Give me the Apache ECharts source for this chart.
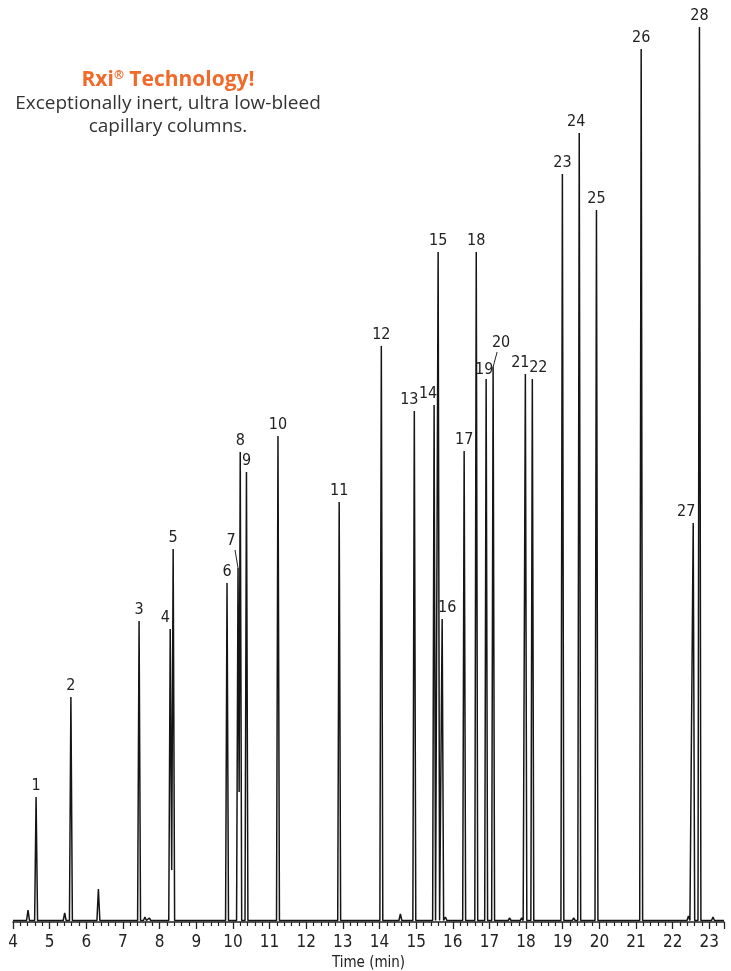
<!DOCTYPE html>
<html>
<head>
<meta charset="utf-8">
<script src="https://cdn.jsdelivr.net/npm/echarts@6/dist/echarts.min.js"></script>
<style>
html,body{margin:0;padding:0;background:#fff;}
#chart{width:731px;height:971px;}
</style>
</head>
<body>
<div id="chart"></div>
<script>
// ---- data ----
const peakNumbers = [1,2,3,4,5,6,7,8,9,10,11,12,13,14,15,16,17,18,19,20,21,22,23,24,25,26,27,28];
const peakTimes   = [4.63,5.58,7.44,8.29,8.37,9.84,10.14,10.20,10.37,11.23,12.90,14.05,14.95,15.49,15.60,15.71,16.31,16.64,16.91,17.10,17.98,18.17,18.99,19.45,19.92,21.14,22.56,22.73];
const peakHeights = [125,225,301,293,373,339,354,470,450,486,420,576,511,517,670,303,471,670,543,555,548,543,748,789,712,873,399,895];
// small unlabelled peaks / baseline disturbances
const minorTimes   = [4.10,4.41,5.41,6.33,7.60,7.72,9.05,14.57,15.80,17.55,17.88,18.85,19.30,22.43,23.10];
const minorHeights = [3,12,9,33,5,4,2,8,5,4,4,3,4,6,5];
// valleys between co-eluting peaks
const valleyTimes   = [8.33,10.17];
const valleyHeights = [52,130];
const baselineLevel = 1.5;
const timeMin = 4, timeMax = 23.4;

// ---- label placement (style only) ----
const labelShift = {4:[-5,0],7:[-7,-16],13:[-5,0],14:[-6,0],16:[5,0],19:[-2,2],20:[8,-13],21:[-5,0],22:[6,0],24:[-3,0],27:[-7,0]};
const leaderLines = {7:true,20:true};

// ---- build trace ----
const halfWidth = 0.04;
const allPeaks = peakTimes.map((t,i)=>[t,peakHeights[i]])
  .concat(minorTimes.map((t,i)=>[t,minorHeights[i]]))
  .sort((a,b)=>a[0]-b[0]);
function valleyBetween(a,b){
  for(let k=0;k<valleyTimes.length;k++){
    if(valleyTimes[k]>a && valleyTimes[k]<b) return [valleyTimes[k],valleyHeights[k]];
  }
  return null;
}
const trace = [[timeMin, baselineLevel]];
allPeaks.forEach((p,i)=>{
  const prev = allPeaks[i-1], next = allPeaks[i+1];
  const vp = prev ? valleyBetween(prev[0],p[0]) : null;
  if(!vp) trace.push([p[0]-halfWidth, baselineLevel]);
  trace.push([p[0], p[1]]);
  const vn = next ? valleyBetween(p[0],next[0]) : null;
  if(vn) trace.push(vn); else trace.push([p[0]+halfWidth, baselineLevel]);
});
trace.push([timeMax, baselineLevel]);

const labelData = peakNumbers.map((n,i)=>[peakTimes[i], peakHeights[i], n]);
const narrow = '"Liberation Sans Narrow","DejaVu Sans Condensed","Roboto Condensed",Roboto,sans-serif';

const chart = echarts.init(document.getElementById('chart'));
chart.setOption({
  animation:false,
  backgroundColor:'#fff',
  grid:{left:13,right:7,top:0,bottom:49,containLabel:false,outerBoundsMode:'none'},
  xAxis:{
    type:'value',min:timeMin,max:timeMax,interval:1,
    axisLine:{show:true,onZero:false,lineStyle:{color:'#222',width:1.5}},
    axisTick:{show:true,length:7,lineStyle:{color:'#222',width:1.3}},
    minorTick:{show:true,splitNumber:5,length:4,lineStyle:{color:'#222',width:1.2}},
    splitLine:{show:false},minorSplitLine:{show:false},
    axisLabel:{color:'#222',fontSize:17,margin:12,fontFamily:narrow,showMaxLabel:false},
    name:'Time (min)',nameLocation:'middle',nameGap:33,
    nameTextStyle:{color:'#222',fontSize:15,fontFamily:narrow}
  },
  yAxis:{type:'value',min:0,max:922,show:false},
  graphic:[
    {type:'text',x:168,y:80,style:{text:'Rxi{s|®} Technology!',align:'center',verticalAlign:'middle',
      fill:'#f26a2a',font:'bold 21px "Open Sans",sans-serif',
      rich:{s:{fontSize:12,fontWeight:'bold',fill:'#f26a2a',verticalAlign:'top',padding:[0,0,9,0],fontFamily:'"Open Sans",sans-serif'}}}},
    {type:'text',x:168,y:104,style:{text:'Exceptionally inert, ultra low-bleed',align:'center',verticalAlign:'middle',
      fill:'#333',font:'19px "Open Sans",sans-serif'}},
    {type:'text',x:168,y:127,style:{text:'capillary columns.',align:'center',verticalAlign:'middle',
      fill:'#333',font:'19px "Open Sans",sans-serif'}}
  ],
  series:[
    {type:'line',data:trace,showSymbol:false,symbol:'none',
     lineStyle:{color:'#151515',width:1.5},z:2},
    {type:'custom',data:labelData,z:3,
     renderItem:function(params,api){
       const n = api.value(2);
       const pt = api.coord([api.value(0),api.value(1)]);
       const sh = labelShift[n]||[0,0];
       const lx = pt[0]+sh[0], ly = pt[1]-3+sh[1];
       const children=[{type:'text',style:{text:String(n),x:lx,y:ly,align:'center',verticalAlign:'bottom',
         fill:'#222',font:'16px '+narrow}}];
       if(leaderLines[n]){
         const ex = lx + (sh[0]>0?-4:4);
         children.push({type:'line',shape:{x1:ex,y1:ly+1,x2:pt[0],y2:pt[1]},style:{stroke:'#222',lineWidth:1}});
       }
       return {type:'group',children:children};
     }}
  ]
});
</script>
</body>
</html>
